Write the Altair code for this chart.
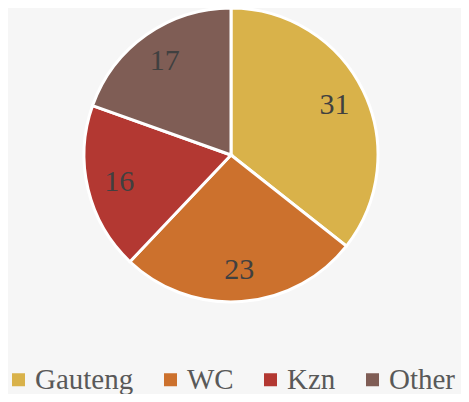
import altair as alt
import pandas as pd

regions = ["Gauteng", "WC", "Kzn", "Other"]
values = [31, 23, 16, 17]
colors = ["#D9B24A", "#CC712D", "#B33832", "#7F5D55"]

df = pd.DataFrame({"region": regions, "value": values, "order": list(range(len(regions)))})

cx, cy, r = 223, 147, 147
FONT = "Liberation Serif"

base = alt.Chart(df).encode(
    theta=alt.Theta("value:Q", stack=True),
    order=alt.Order("order:Q"),
)

pie = base.mark_arc(radius=r, stroke="white", strokeWidth=3).encode(
    x=alt.value(cx), y=alt.value(cy),
    color=alt.Color(
        "region:N",
        scale=alt.Scale(domain=regions, range=colors),
        sort=regions,
        legend=alt.Legend(
            title=None, orient="none", direction="horizontal",
            legendX=-4, legendY=357,
            symbolType="square", symbolSize=169, symbolStrokeWidth=0,
            labelFontSize=29, labelColor="#595959",
            columnPadding=22, labelOffset=2, symbolOpacity=1, padding=0,
        ),
    ),
)

labels = base.mark_text(radius=115, fontSize=30, color="#404040").encode(
    x=alt.value(cx), y=alt.value(cy),
    text="value:Q",
)

chart = (pie + labels).properties(
    width=453, height=386, padding=0,
    background="#F6F6F6",
    autosize=alt.AutoSizeParams(type="none"),
).configure(font=FONT).configure_legend(labelFont=FONT).configure_text(font=FONT).configure_view(stroke=None)

chart.save("out.html", embed_options={"renderer": "svg", "actions": False})
